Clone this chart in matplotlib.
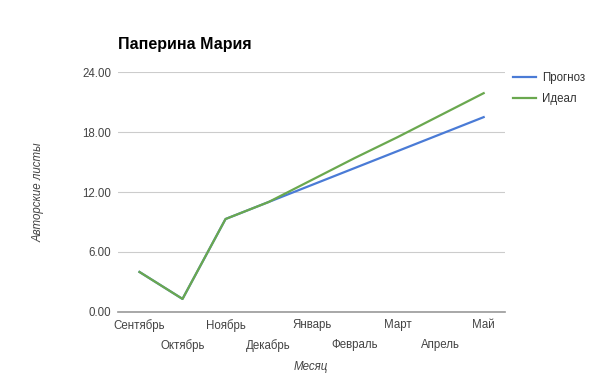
import matplotlib.pyplot as plt
import numpy as np

months = ['Сентябрь', 'Октябрь', 'Ноябрь', 'Декабрь', 'Январь',
          'Февраль', 'Март', 'Апрель', 'Май']
prognoz = [4.0, 1.3, 9.3, 11.0, 12.7, 14.4, 16.1, 17.8, 19.5]
ideal = [4.0, 1.3, 9.3, 11.0, 13.2, 15.4, 17.5, 19.7, 21.9]
yticks = [0, 6, 12, 18, 24]

plt.rcParams['font.family'] = ['Liberation Sans', 'DejaVu Sans']

fig = plt.figure(figsize=(6.05, 3.74), dpi=100)
ax = fig.add_axes([0.195, 0.166, 0.64, 0.641])

x = np.arange(len(months))
ax.plot(x, prognoz, color='#4a7bd6', lw=1.6, label='Прогноз', zorder=3)
ax.plot(x, ideal, color='#6aa84f', lw=1.6, label='Идеал', zorder=4)

ax.set_xlim(-0.5, len(months) - 0.5)
ax.set_ylim(0, 24)
ax.set_yticks(yticks)
ax.set_yticklabels(['%.2f' % v for v in yticks])
ax.set_xticks(x)
ax.set_xticklabels(months)
for i, lbl in enumerate(ax.get_xticklabels()):
    if i % 2:
        lbl.set_y(-0.085)
ax.tick_params(length=0, labelsize=8.3, labelcolor='#444444')
ax.tick_params(axis='x', pad=5)
ax.tick_params(axis='y', pad=5)

ax.grid(axis='y', color='#cccccc', lw=0.8)
ax.set_axisbelow(True)
for s in ['top', 'right', 'left']:
    ax.spines[s].set_visible(False)
ax.spines['bottom'].set_color('#999999')
ax.spines['bottom'].set_linewidth(1.2)

fig.text(0.195, 0.88, 'Паперина Мария', fontsize=11.5, fontweight='bold', ha='left', va='center')
fig.text(0.063, 0.487, 'Авторские листы', rotation=90, style='italic', fontsize=8.3,
         color='#444444', ha='center', va='center')
fig.text(0.513, 0.018, 'Месяц', style='italic', fontsize=8.3, color='#444444',
         ha='center', va='center')

fig.legend(loc='upper left', bbox_to_anchor=(0.84, 0.82), frameon=False, fontsize=8.3,
           handlelength=2.0, handletextpad=0.5, labelcolor='#333333',
           borderaxespad=0.0, labelspacing=0.8)

fig.savefig('out.png', dpi=100)
